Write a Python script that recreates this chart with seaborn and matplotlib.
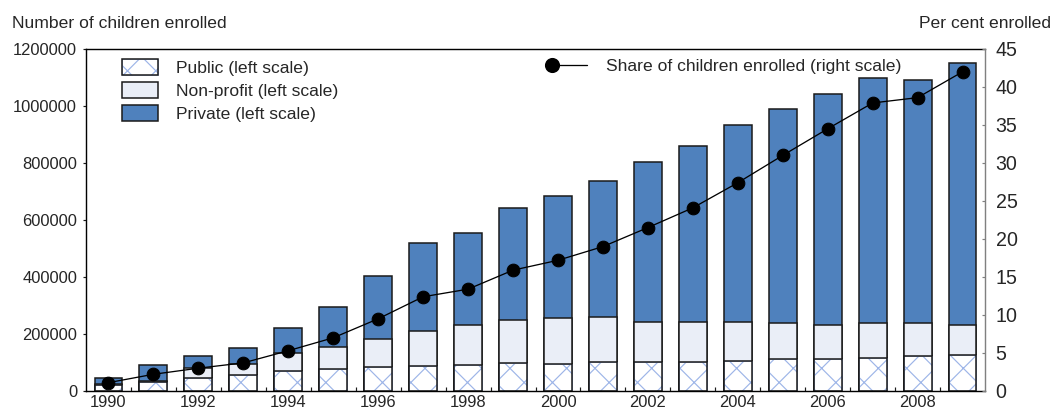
import numpy as np
import matplotlib.pyplot as plt
import seaborn as sns
from matplotlib.patches import Patch
from matplotlib.lines import Line2D
from matplotlib.legend_handler import HandlerLine2D

# data
years = [str(y) for y in range(1990, 2010)]
public = [21000, 33000, 47000, 55000, 70000, 78000, 84000, 88000, 91000, 99000,
          96000, 102000, 102000, 102000, 106000, 112000, 114000, 117000, 122000, 126000]
nonprofit = [3000, 3000, 33000, 41000, 63000, 77000, 98000, 124000, 141000, 150000,
             160000, 159000, 141000, 141000, 135000, 125000, 119000, 120000, 115000, 107000]
private = [23000, 54000, 42000, 54000, 87000, 138000, 220000, 309000, 324000, 392000,
           429000, 475000, 560000, 617000, 691000, 752000, 809000, 863000, 853000, 917000]
share = [1.1, 2.2, 3.0, 3.7, 5.3, 7.0, 9.5, 12.4, 13.4, 15.9,
         17.2, 19.0, 21.5, 24.1, 27.4, 31.0, 34.5, 37.9, 38.6, 42.0]

blue = "#4f81bd"
light = "#eaeef7"
hatch_col = "#9db5e8"
edge = "#1a1a1a"

sns.set_style("white")
plt.rcParams["font.family"] = ["Liberation Sans", "DejaVu Sans"]
plt.rcParams["hatch.linewidth"] = 0.5

DPI = 170
fig = plt.figure(figsize=(1053 / DPI, 411 / DPI), dpi=DPI)
ax = fig.add_axes([86 / 1053, 20 / 411, 899 / 1053, 342 / 411])

# stacked bars drawn as overlapping cumulative totals
pub_np = [a + b for a, b in zip(public, nonprofit)]
total = [a + b for a, b in zip(pub_np, private)]

bar_kw = dict(width=0.62, saturation=1, errorbar=None, edgecolor=edge, linewidth=0.65, ax=ax)
sns.barplot(x=years, y=total, color=blue, **bar_kw)
sns.barplot(x=years, y=pub_np, color=light, **bar_kw)
sns.barplot(x=years, y=public, color="white", hatch="xx", width=0.62, saturation=1,
            errorbar=None, edgecolor=hatch_col, linewidth=0.3, ax=ax)
sns.barplot(x=years, y=public, color="white", facecolor="none", **bar_kw)

# share line on the right scale
ax2 = ax.twinx()
sns.pointplot(x=years, y=share, color="black", markers="o", markersize=5.4,
              linewidth=0.55, errorbar=None, ax=ax2)

ax.set_xlim(-0.5, len(years) - 0.5)
ax.set_ylim(0, 1200000)
ax.set_yticks(range(0, 1200001, 200000))
ax.ticklabel_format(style="plain", axis="y")
ax2.set_ylim(0, 45)
ax2.set_yticks(range(0, 46, 5))

ax.set_xticks(range(0, len(years), 2))
ax.set_xticklabels(years[::2])
ax.set_xticks(np.arange(0.5, len(years) - 1, 1), minor=True)
ax.set_xlabel("")
ax.set_ylabel("")
ax2.set_xlabel("")
ax2.set_ylabel("")

ax.tick_params(axis="x", which="major", length=0, pad=1.5, labelsize=7)
ax.tick_params(axis="x", which="minor", bottom=True, direction="in", length=1.8,
               width=0.5, color=edge)
ax.tick_params(axis="y", left=True, direction="out", length=1.3, width=0.5,
               pad=2.5, labelsize=7, color=edge)
ax2.tick_params(axis="y", right=True, direction="in", length=1.3, width=0.5,
                pad=4.5, labelsize=8.3, color="#808080")

for s in ["left", "bottom", "top"]:
    ax.spines[s].set_color("black")
    ax.spines[s].set_linewidth(0.6)
ax.spines["right"].set_visible(False)
for s in ["left", "bottom", "top"]:
    ax2.spines[s].set_visible(False)
ax2.spines["right"].set_color("#808080")
ax2.spines["right"].set_linewidth(0.6)


class MarkerFirst(HandlerLine2D):
    # put the legend marker at the left end of the line
    def create_artists(self, *args, **kwargs):
        artists = super().create_artists(*args, **kwargs)
        artists[0].set_markevery([0])
        return artists


h_public = (Patch(facecolor="white", edgecolor=hatch_col, hatch="xx", linewidth=0.3),
            Patch(facecolor="none", edgecolor=edge, linewidth=0.65))
h_np = Patch(facecolor=light, edgecolor=edge, linewidth=0.65)
h_priv = Patch(facecolor=blue, edgecolor=edge, linewidth=0.65)
ax.legend([h_public, h_np, h_priv],
          ["Public (left scale)", "Non-profit (left scale)", "Private (left scale)"],
          loc="upper left", bbox_to_anchor=(0.04, 0.972), frameon=False, borderpad=0,
          borderaxespad=0, fontsize=7.4, handlelength=2.05, handleheight=1.03,
          handletextpad=1.05, labelspacing=0.37)

h_line = Line2D([], [], color="black", marker="o", markersize=5.4, linewidth=0.55)
ax2.legend([h_line], ["Share of children enrolled (right scale)"],
           handler_map={h_line: MarkerFirst(numpoints=1)},
           loc="upper left", bbox_to_anchor=(0.518, 0.972), frameon=False, borderpad=0,
           borderaxespad=0, fontsize=7.4, handlelength=2.0, handletextpad=1.1)

fig.text(12 / 1053, 1 - 23 / 411, "Number of children enrolled", fontsize=7.4, va="center")
fig.text(1051 / 1053, 1 - 23 / 411, "Per cent enrolled", fontsize=7.4, va="center", ha="right")

fig.savefig("out.png", dpi=DPI)
